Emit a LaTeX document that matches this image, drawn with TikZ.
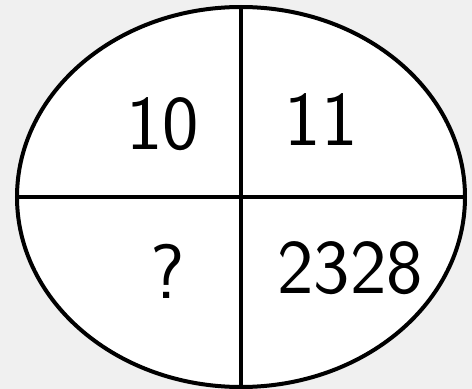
\documentclass[tikz,border=0pt]{standalone}
\usetikzlibrary{shapes.geometric}
\definecolor{bggray}{RGB}{240,240,240}

\begin{document}
\begin{tikzpicture}[x=0.75pt,y=0.75pt,yscale=-1,xscale=1]
\tikzset{hand/.style={anchor=center,inner sep=0.75pt,font=\sffamily\fontsize{58}{62}\selectfont}}
%Background
\fill [bggray] (0,0) rectangle (472,389);
\useasboundingbox (0,0) rectangle (472,389);

%Shape: Ellipse [id:oval]
\node [ellipse,draw,fill=white,line width=3pt,inner sep=0pt,outer sep=0pt,minimum width=336pt,minimum height=285pt] (oval) at (241,197) {};
%Straight Lines
\draw [line width=3pt] (oval.north) -- (oval.south) ;
%Straight Lines
\draw [line width=3pt] (oval.west) -- (oval.east) ;

% Text Node
\node [hand] (ten) at (163,124) {10};
% Text Node
\node [hand] (eleven) at (321,120) {11};
% Text Node
\node [hand] (ask) at (168,271) {?};
% Text Node
\node [hand] (big) at (350,268) {2328};
\end{tikzpicture}
\end{document}
